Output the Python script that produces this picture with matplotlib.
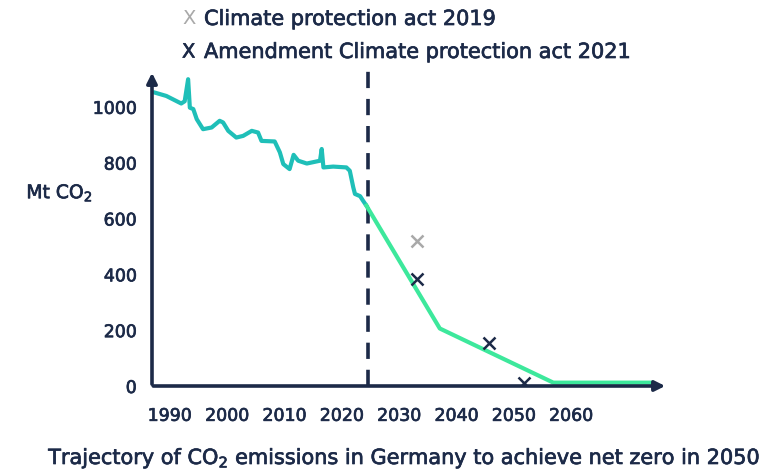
import matplotlib.pyplot as plt
import matplotlib.patheffects as pe

plt.rcParams['font.family'] = ['DejaVu Sans']

NAVY = '#1c2a48'
TEAL = '#1fbfb8'
GREEN = '#3de89c'
GREY = '#a9a9a9'

# historical emissions (x in axis years as drawn, Mt CO2)
hist_years = [1987.4, 1989.4, 1992.0, 1992.6, 1993.2, 1993.5, 1994.1, 1994.7, 1995.8,
              1997.3, 1998.7, 1999.3, 2000.2, 2001.6, 2002.8, 2004.3, 2005.4, 2006.0,
              2008.3, 2009.2, 2009.8, 2010.9, 2011.6, 2012.4, 2013.9, 2016.2, 2016.5,
              2016.8, 2018.5, 2020.8, 2021.4, 2022.0, 2022.3, 2023.2, 2023.7, 2024.3]
hist_vals = [1051, 1039, 1012, 1020, 1099, 997, 992, 956, 920,
             926, 950, 944, 914, 890, 896, 914, 908, 878,
             876, 837, 795, 777, 828, 807, 797, 807, 849,
             783, 786, 783, 771, 712, 688, 680, 664, 646]

# target path
path_years = [2024.3, 2037.1, 2056.9, 2074.1]
path_vals = [646, 206, 12, 12]

# legal targets
act2019_years = [2033.2]
act2019_vals = [521]
act2021_years = [2033.2, 2045.6, 2051.8]
act2021_vals = [385, 155, 12]

now_year = 2024.5
x_ticks = [1990, 2000, 2010, 2020, 2030, 2040, 2050, 2060]
y_ticks = [0, 200, 400, 600, 800, 1000]

# slightly heavier text, closer to a medium weight
bold = [pe.withStroke(linewidth=0.5, foreground=NAVY)]

fig = plt.figure(figsize=(7.76, 4.71), dpi=100)
ax = fig.add_axes([152 / 776, 1 - 386 / 471, (668 - 152) / 776, (386 - 70) / 471])
ax.set_xlim(1986.9, 2076.9)
ax.set_ylim(0, 1132)

ax.plot(hist_years, hist_vals, color=TEAL, lw=3, solid_joinstyle='round', zorder=3)
ax.plot(path_years, path_vals, color=GREEN, lw=3, zorder=3)
ax.axvline(now_year, color=NAVY, lw=2.6, dashes=(4.5, 3), zorder=2)

ax.plot(act2019_years, act2019_vals, 'x', color=GREY, ms=9, mew=1.8, zorder=4)
ax.plot(act2021_years, act2021_vals, 'x', color=NAVY, ms=9, mew=1.8, zorder=4)

for s in ax.spines.values():
    s.set_visible(False)
ax.annotate('', xy=(0, 1.0), xytext=(0, -0.003), xycoords='axes fraction',
            arrowprops=dict(arrowstyle='-|>,head_length=0.6,head_width=0.3',
                            color=NAVY, lw=2.6))
ax.annotate('', xy=(1.0, 0), xytext=(-0.003, 0), xycoords='axes fraction',
            arrowprops=dict(arrowstyle='-|>,head_length=0.6,head_width=0.3',
                            color=NAVY, lw=2.6))

ax.set_xticks(x_ticks)
ax.set_yticks(y_ticks)
ax.tick_params(length=0, colors=NAVY, labelsize=12.5)
ax.tick_params(axis='x', pad=15)
ax.tick_params(axis='y', pad=11)
for lab in ax.get_xticklabels() + ax.get_yticklabels():
    lab.set_path_effects(bold)

fig.text(93 / 776, 1 - 193 / 471, 'Mt CO$_2$', ha='right', va='center',
         color=NAVY, fontsize=13.5, path_effects=bold)

# legend
fig.text(182 / 776, 1 - 19 / 471, 'X', color=GREY, fontsize=14, va='center')
fig.text(204 / 776, 1 - 19 / 471, 'Climate protection act 2019', color=NAVY,
         fontsize=15, va='center', path_effects=bold)
fig.text(182 / 776, 1 - 52 / 471, 'X', color=NAVY, fontsize=14, va='center',
         path_effects=bold)
fig.text(204 / 776, 1 - 52 / 471, 'Amendment Climate protection act 2021', color=NAVY,
         fontsize=15, va='center', path_effects=bold)

fig.text(405 / 776, 1 - 458 / 471,
         'Trajectory of CO$_2$ emissions in Germany to achieve net zero in 2050',
         ha='center', va='center', color=NAVY, fontsize=15, path_effects=bold)

fig.savefig('out.png', dpi=100)
